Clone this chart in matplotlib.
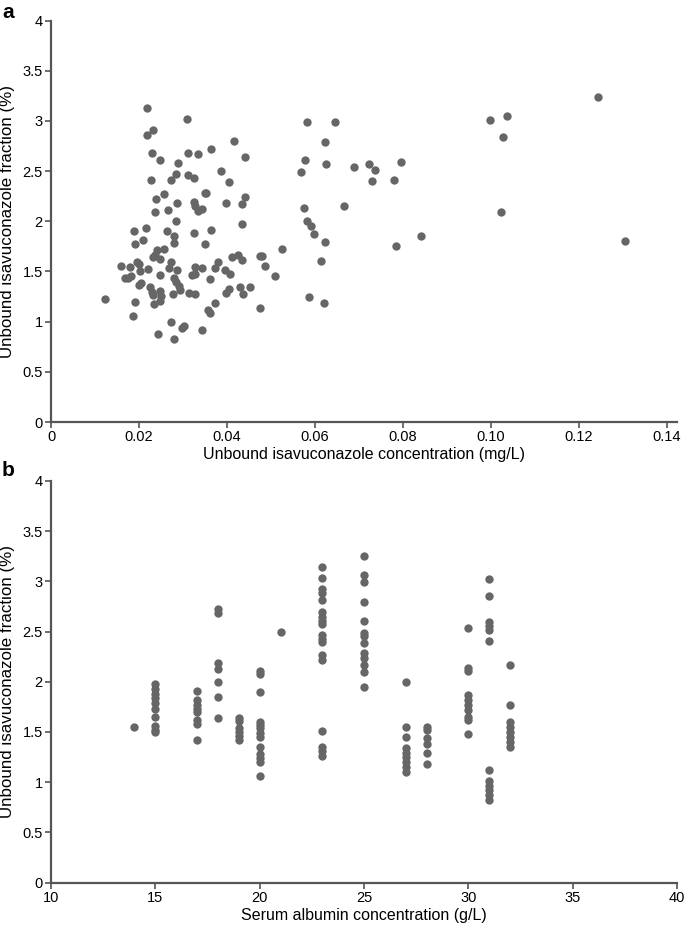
import matplotlib
matplotlib.use("Agg")
import matplotlib.pyplot as plt
import numpy as np

plt.rcParams['font.family'] = ['Liberation Sans', 'DejaVu Sans']

# ---- Panel a data: unbound concentration (mg/L) vs unbound fraction (%)
conc_a = [0.0219, 0.0309, 0.0231, 0.0218, 0.0230, 0.0248, 0.0311, 0.0334, 0.0288, 0.0227,
          0.0273, 0.0283, 0.0311, 0.0326, 0.0238, 0.0257, 0.0237, 0.0266, 0.0287, 0.0325,
          0.0327, 0.0334, 0.0283, 0.0188, 0.0217, 0.0209, 0.0191, 0.0263, 0.0279, 0.0279,
          0.0256, 0.0326, 0.0240, 0.0237, 0.0231, 0.0248, 0.0248, 0.0273, 0.0268, 0.0286,
          0.0196, 0.0199, 0.0203, 0.0221, 0.0159, 0.0180, 0.0174, 0.0168, 0.0182, 0.0204,
          0.0201, 0.0225, 0.0230, 0.0231, 0.0234, 0.0247, 0.0251, 0.0248, 0.0279, 0.0283,
          0.0290, 0.0294, 0.0277, 0.0313, 0.0327, 0.0328, 0.0328, 0.0321, 0.0122, 0.0192,
          0.0187, 0.0273, 0.0302, 0.0298, 0.0244, 0.0279,
          0.0581, 0.0645, 0.0623, 0.0417, 0.0364, 0.0442, 0.0577, 0.0624, 0.0568, 0.0688,
          0.0386, 0.0405, 0.0349, 0.0353, 0.0398, 0.0433, 0.0440, 0.0344, 0.0433, 0.0576,
          0.0665, 0.0581, 0.0590, 0.0598, 0.0623, 0.0614, 0.0364, 0.0349, 0.0526, 0.0474,
          0.0479, 0.0486, 0.0508, 0.0412, 0.0424, 0.0434, 0.0379, 0.0372, 0.0343, 0.0396,
          0.0406, 0.0362, 0.0430, 0.0436, 0.0453, 0.0398, 0.0404, 0.0373, 0.0356, 0.0362,
          0.0475, 0.0587, 0.0620, 0.0343,
          0.1243, 0.1305, 0.0998, 0.1036, 0.1027, 0.1023, 0.0723, 0.0737, 0.0729, 0.0796,
          0.0780, 0.0783, 0.0842]
frac_a = [3.13, 3.02, 2.91, 2.86, 2.68, 2.61, 2.68, 2.67, 2.58, 2.41,
          2.41, 2.47, 2.46, 2.43, 2.22, 2.27, 2.09, 2.11, 2.18, 2.19,
          2.15, 2.10, 2.00, 1.90, 1.93, 1.81, 1.77, 1.90, 1.85, 1.78,
          1.72, 1.88, 1.71, 1.66, 1.64, 1.62, 1.46, 1.59, 1.53, 1.51,
          1.59, 1.57, 1.50, 1.52, 1.55, 1.54, 1.43, 1.43, 1.45, 1.38,
          1.36, 1.34, 1.30, 1.27, 1.18, 1.31, 1.26, 1.21, 1.43, 1.39,
          1.35, 1.32, 1.28, 1.29, 1.28, 1.54, 1.47, 1.46, 1.23, 1.20,
          1.06, 1.00, 0.96, 0.94, 0.88, 0.83,
          2.99, 2.99, 2.79, 2.80, 2.72, 2.64, 2.61, 2.57, 2.49, 2.54,
          2.50, 2.39, 2.28, 2.28, 2.18, 2.17, 2.24, 2.12, 1.97, 2.13,
          2.15, 2.00, 1.95, 1.87, 1.79, 1.60, 1.91, 1.77, 1.72, 1.65,
          1.65, 1.55, 1.45, 1.64, 1.66, 1.61, 1.59, 1.53, 1.53, 1.51,
          1.47, 1.42, 1.34, 1.28, 1.34, 1.29, 1.33, 1.19, 1.12, 1.09,
          1.14, 1.25, 1.19, 0.92,
          3.24, 1.80, 3.01, 3.05, 2.84, 2.09, 2.57, 2.51, 2.40, 2.59,
          2.41, 1.75, 1.85]

# ---- Panel b data: serum albumin (g/L) vs unbound fraction (%)
alb_14 = [1.55]
alb_15 = [1.98, 1.93, 1.88, 1.84, 1.79, 1.73, 1.65, 1.56, 1.52, 1.50]
alb_17 = [1.91, 1.82, 1.77, 1.73, 1.70, 1.62, 1.58, 1.42]
alb_18 = [2.72, 2.68, 2.19, 2.13, 2.00, 1.85, 1.64]
alb_19 = [1.64, 1.61, 1.54, 1.50, 1.46, 1.42]
alb_20 = [2.11, 2.08, 1.90, 1.60, 1.57, 1.54, 1.49, 1.45, 1.35, 1.28, 1.24, 1.20, 1.06]
alb_21 = [2.50]
alb_23 = [3.14, 3.03, 2.92, 2.88, 2.81, 2.69, 2.65, 2.61, 2.58, 2.47, 2.43, 2.40, 2.27, 2.22,
          1.51, 1.35, 1.31, 1.26]
alb_25 = [3.25, 3.06, 2.99, 2.79, 2.61, 2.49, 2.46, 2.39, 2.29, 2.24, 2.17, 2.10, 1.95]
alb_27 = [2.00, 1.55, 1.45, 1.34, 1.29, 1.25, 1.20, 1.15, 1.10]
alb_28 = [1.55, 1.52, 1.44, 1.38, 1.29, 1.18]
alb_30 = [2.54, 2.14, 2.11, 1.87, 1.82, 1.77, 1.72, 1.65, 1.62, 1.48]
alb_31 = [3.02, 2.85, 2.60, 2.56, 2.52, 2.41, 1.12, 1.01, 0.96, 0.92, 0.87, 0.82]
alb_32 = [2.17, 1.77, 1.60, 1.55, 1.50, 1.45, 1.40, 1.35]
albumin_levels = [14, 15, 17, 18, 19, 20, 21, 23, 25, 27, 28, 30, 31, 32]
frac_b_groups = [alb_14, alb_15, alb_17, alb_18, alb_19, alb_20, alb_21, alb_23, alb_25,
                 alb_27, alb_28, alb_30, alb_31, alb_32]

alb_b = []
frac_b = []
for lvl, grp in zip(albumin_levels, frac_b_groups):
    alb_b += [lvl] * len(grp)
    frac_b += grp

y_ticks = [0, 0.5, 1, 1.5, 2, 2.5, 3, 3.5, 4]
y_tick_labels = ['0', '0.5', '1', '1.5', '2', '2.5', '3', '3.5', '4']
xa_ticks = [0, 0.02, 0.04, 0.06, 0.08, 0.10, 0.12, 0.14]
xa_tick_labels = ['0', '0.02', '0.04', '0.06', '0.08', '0.10', '0.12', '0.14']
xb_ticks = [10, 15, 20, 25, 30, 35, 40]
xb_tick_labels = ['10', '15', '20', '25', '30', '35', '40']

W, H = 685, 926
fig = plt.figure(figsize=(W / 100, H / 100), dpi=100)

dot_color = '#666666'
axis_color = '#555555'

def style(ax):
    for s in ['top', 'right']:
        ax.spines[s].set_visible(False)
    for s in ['left', 'bottom']:
        ax.spines[s].set_color(axis_color)
        ax.spines[s].set_linewidth(1.6)
    ax.tick_params(direction='out', length=4, width=1.2, color=axis_color,
                   labelsize=10.5, labelcolor='black', pad=2)
    ax.set_yticks(y_ticks)
    ax.set_yticklabels(y_tick_labels)
    ax.set_ylim(0, 4)

ax1 = fig.add_axes([51 / W, 1 - 422 / H, 626 / W, 401.5 / H])
ax1.scatter(conc_a, frac_a, s=36, color=dot_color, linewidths=0, clip_on=False)
style(ax1)
ax1.set_xlim(0, 0.14 * 626 / 616)
ax1.set_xticks(xa_ticks)
ax1.set_xticklabels(xa_tick_labels)
ax1.set_xlabel('Unbound isavuconazole concentration (mg/L)', fontsize=11.5, labelpad=2)
ax1.set_ylabel('Unbound isavuconazole fraction (%)', fontsize=12.2, labelpad=5)

ax2 = fig.add_axes([51 / W, 1 - 882.5 / H, 626 / W, 401.5 / H])
ax2.scatter(alb_b, frac_b, s=36, color=dot_color, linewidths=0, clip_on=False)
style(ax2)
ax2.set_xlim(10, 40)
ax2.set_xticks(xb_ticks)
ax2.set_xticklabels(xb_tick_labels)
ax2.set_xlabel('Serum albumin concentration (g/L)', fontsize=11.5, labelpad=2)
ax2.set_ylabel('Unbound isavuconazole fraction (%)', fontsize=12.2, labelpad=5)

fig.text(2 / W, 1 - 3 / H, 'a', fontsize=15, fontweight='bold', va='top', ha='left')
fig.text(2 / W, 1 - 461 / H, 'b', fontsize=15, fontweight='bold', va='top', ha='left')

fig.savefig('out.png', dpi=100)
